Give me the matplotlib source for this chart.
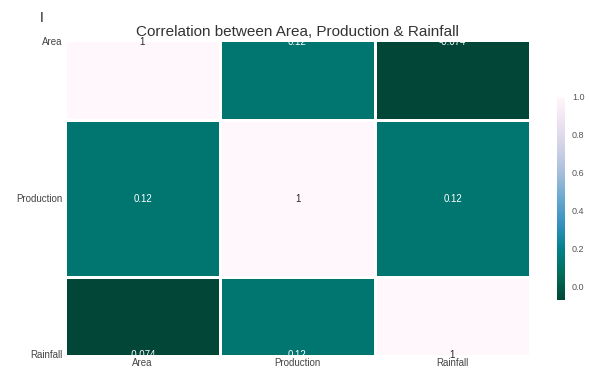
import numpy as np
import matplotlib
matplotlib.use('Agg')
import matplotlib.pyplot as plt
import seaborn as sns

labels = ['Area', 'Production', 'Rainfall']
corr = [[1.0, 0.12, -0.074],
        [0.12, 1.0, 0.12],
        [-0.074, 0.12, 1.0]]

plt.rcParams['font.family'] = ['Liberation Sans', 'DejaVu Sans']

fig = plt.figure(figsize=(5.89, 3.72), dpi=100)
ax = fig.add_axes([65 / 589, 1 - 355 / 372, 465 / 589, 313 / 372])
cax = fig.add_axes([557 / 589, 1 - 300 / 372, 8 / 589, 203 / 372])

sns.heatmap(np.array(corr), annot=True, cmap='PuBuGn_r', linewidths=1, linecolor='white',
            xticklabels=labels, yticklabels=labels, ax=ax, cbar_ax=cax,
            annot_kws={'size': 7})
# old matplotlib/seaborn clipping: half of top and bottom rows cut off
ax.set_ylim(2.5, 0.5)
ax.set_title('Correlation between Area, Production & Rainfall', fontsize=11, color='#333333', pad=4)
ax.tick_params(length=0, labelsize=7, colors='#444444', pad=2)
plt.setp(ax.get_yticklabels(), rotation=0)
cax.tick_params(length=0, labelsize=6.5, colors='#555555', pad=5)
cax.set_yticks([0.0, 0.2, 0.4, 0.6, 0.8, 1.0])
for s in cax.spines.values():
    s.set_visible(False)

fig.text(40 / 589, 1 - 18 / 372, 'I', fontsize=10, color='#222222', va='center')

fig.savefig('out.png', dpi=100)
